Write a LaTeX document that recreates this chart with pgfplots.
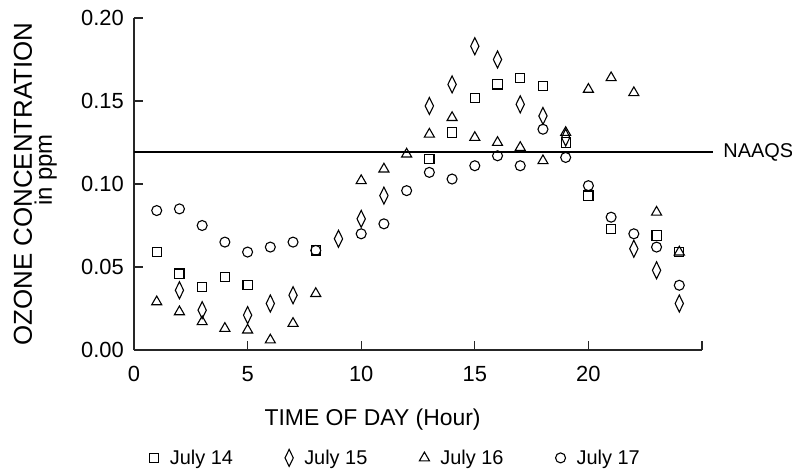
\documentclass[border=0pt]{standalone}
\usepackage{fontspec}
\setmainfont{Liberation Sans}
\usepackage{pgfplots}
\pgfplotsset{compat=1.18}
\usepackage{pgfplotstable}

\pgfplotstableread{
h v
1 0.059
2 0.046
3 0.038
4 0.044
5 0.039
8 0.060
13 0.115
14 0.131
15 0.152
16 0.160
17 0.164
18 0.159
19 0.125
20 0.093
21 0.073
23 0.069
24 0.059
}\julyA

\pgfplotstableread{
h v
2 0.036
3 0.024
5 0.021
6 0.028
7 0.033
9 0.067
10 0.079
11 0.093
13 0.147
14 0.160
15 0.183
16 0.175
17 0.148
18 0.141
19 0.128
22 0.061
23 0.048
24 0.028
}\julyB

\pgfplotstableread{
h v
1 0.029
2 0.023
3 0.017
4 0.013
5 0.012
6 0.006
7 0.016
8 0.034
10 0.102
11 0.109
12 0.118
13 0.130
14 0.140
15 0.128
16 0.125
17 0.122
18 0.114
19 0.131
20 0.157
21 0.164
22 0.155
23 0.083
24 0.059
}\julyC

\pgfplotstableread{
h v
1 0.084
2 0.085
3 0.075
4 0.065
5 0.059
6 0.062
7 0.065
8 0.060
10 0.070
11 0.076
12 0.096
13 0.107
14 0.103
15 0.111
16 0.117
17 0.111
18 0.133
19 0.116
20 0.099
21 0.080
22 0.070
23 0.062
24 0.039
}\julyD

\begin{document}
\begin{tikzpicture}
\useasboundingbox (-134bp,-123bp) rectangle (658bp,350bp);
\begin{axis}[
  anchor=south west, at={(0,0)},
  scale only axis, width=568bp, height=332bp,
  xmin=0, xmax=25, ymin=0, ymax=0.2,
  clip=false,
  axis lines=left,
  axis line style={-, line width=1.4bp, black!85},
  tick style={line width=1.1bp, black!85},
  tick align=inside, major tick length=9bp,
  xtick={0,5,10,15,20,25}, xticklabels={0,5,10,15,20,},
  ytick={0,0.05,0.1,0.15,0.2}, yticklabels={0.00,0.05,0.10,0.15,0.20},
  minor tick num=0,
  xticklabel style={font=\fontsize{22}{24}\selectfont, inner sep=0pt, anchor=north, yshift=-16bp},
  yticklabel style={font=\fontsize{22}{24}\selectfont, inner sep=0pt, anchor=east, xshift=-10bp},
  xlabel={TIME OF DAY (Hour)},
  xlabel style={font=\fontsize{23}{25}\selectfont, at={(axis description cs:0.42,-0.226)}, anchor=base, inner sep=0pt},
  legend columns=4,
  legend style={draw=none, fill=none, font=\fontsize{20}{22}\selectfont,
    at={(axis description cs:0.022,-0.325)}, anchor=west,
    /tikz/every odd column/.append style={column sep=9bp},
    /tikz/every even column/.append style={column sep=50bp}},
  every axis plot/.append style={only marks, black, line width=1.1bp},
]
\addplot[mark=square, mark size=4.6bp] table[x=h,y=v] {\julyA};
\addlegendentry{July 14}
\addplot[mark=diamond, mark size=8.5bp, mark options={xscale=0.65}] table[x=h,y=v] {\julyB};
\addlegendentry{July 15}
\addplot[mark=triangle, mark size=5.8bp] table[x=h,y=v] {\julyC};
\addlegendentry{July 16}
\addplot[mark=o, mark size=5bp] table[x=h,y=v] {\julyD};
\addlegendentry{July 17}
\addplot[sharp plot, no marks, line width=2bp, black, forget plot] coordinates {(0,0.119) (25.5,0.119)}
  node[right, pos=1, font=\fontsize{20}{22}\selectfont, inner sep=0pt, xshift=9bp] {NAAQS};
\node[rotate=90, anchor=base, inner sep=0pt, font=\fontsize{26}{26}\selectfont] at (axis description cs:-0.1796,0.5) {OZONE CONCENTRATION};
\node[rotate=90, anchor=base, inner sep=0pt, font=\fontsize{24}{24}\selectfont] at (axis description cs:-0.1444,0.542) {in ppm};
\end{axis}
\end{tikzpicture}
\end{document}
